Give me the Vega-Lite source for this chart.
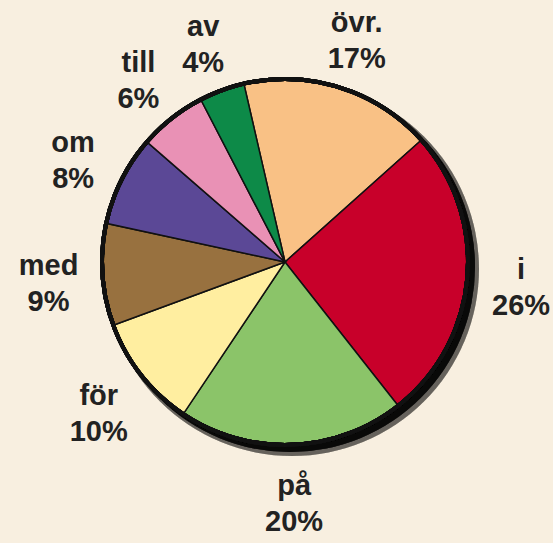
{
  "$schema": "https://vega.github.io/schema/vega-lite/v6.json",
  "width": 536,
  "height": 524,
  "autosize": {"type": "none"},
  "padding": {"left": 17, "top": 0, "right": 0, "bottom": 19},
  "background": "#F8EFE0",
  "config": {"view": {"stroke": null}},
  "data": {
    "values": [
      {"word": "övr.", "pct": 17, "ord": 1},
      {"word": "i", "pct": 26, "ord": 2},
      {"word": "på", "pct": 20, "ord": 3},
      {"word": "för", "pct": 10, "ord": 4},
      {"word": "med", "pct": 9, "ord": 5},
      {"word": "om", "pct": 8, "ord": 6},
      {"word": "till", "pct": 6, "ord": 7},
      {"word": "av", "pct": 4, "ord": 8}
    ]
  },
  "layer": [
    {
      "mark": {"type": "arc", "theta": 0, "theta2": 6.2832, "radius": 187, "xOffset": 7, "yOffset": 7, "fill": "#000", "opacity": 0.1},
      "encoding": {}
    },
    {
      "mark": {"type": "arc", "theta": 0, "theta2": 6.2832, "radius": 185, "xOffset": 5, "yOffset": 5, "fill": "#000", "opacity": 0.25},
      "encoding": {}
    },
    {
      "mark": {"type": "arc", "radius": 183, "stroke": "#111", "strokeWidth": 1.5},
      "encoding": {
        "theta": {"field": "pct", "type": "quantitative", "stack": true, "scale": {"range": [-0.2269, 6.0563]}},
        "order": {"field": "ord", "type": "quantitative"},
        "color": {
          "field": "word", "type": "nominal", "legend": null,
          "scale": {
            "domain": ["övr.", "i", "på", "för", "med", "om", "till", "av"],
            "range": ["#F9C185", "#C8002A", "#8BC469", "#FFEEA0", "#98713F", "#5B4896", "#E991B5", "#0D8A48"]
          }
        }
      }
    },
    {
      "mark": {"type": "arc", "theta": 0, "theta2": 6.2832, "radius": 183, "fill": null, "fillOpacity": 0, "stroke": "#111", "strokeWidth": 4},
      "encoding": {}
    },
    {
      "transform": [{"calculate": "datum.word + '\\n' + datum.pct + '%'", "as": "label"}],
      "mark": {"type": "text", "radius": 237, "dy": -13, "font": "Liberation Sans", "fontWeight": "bold", "fontSize": 29, "lineHeight": 36, "lineBreak": "\n", "color": "#222", "align": "center", "baseline": "middle"},
      "encoding": {
        "theta": {"field": "pct", "type": "quantitative", "stack": true},
        "order": {"field": "ord", "type": "quantitative"},
        "text": {"field": "label", "type": "nominal"}
      }
    }
  ]
}
